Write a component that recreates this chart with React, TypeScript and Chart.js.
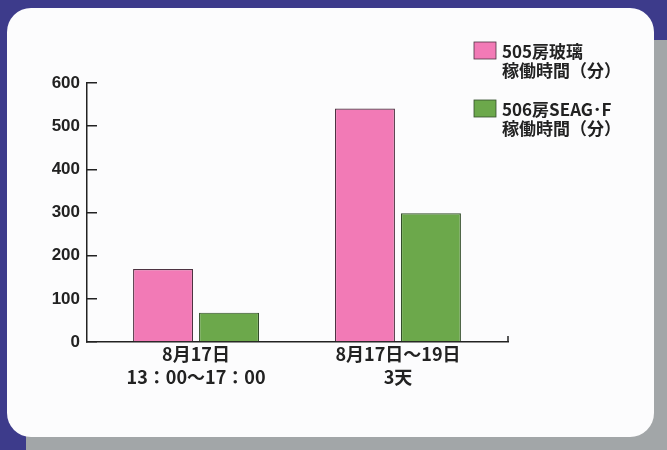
import React, { useEffect, useRef } from "react";
import { Chart, registerables } from "chart.js";

Chart.register(...registerables);

// ---- data ----
const categories: string[][] = [
  ["8月17日", "13：00～17：00"],
  ["8月17日～19日", "3天"],
];
const seriesNames: string[][] = [
  ["505房玻璃", "稼働時間（分）"],
  ["506房SEAG･F", "稼働時間（分）"],
];
const glassMinutes: number[] = [169, 541];
const seagMinutes: number[] = [68, 298];
const yMin = 0;
const yMax = 600;
const yStep = 100;

// ---- styles ----
const NAVY = "#3d3b8b";
const SHADOW = "#a2a6a8";
const CARD = "#fcfcfd";
const PINK = "#f27ab6";
const PINK_BORDER = "#4e3342";
const GREEN = "#6ca84b";
const GREEN_BORDER = "#334d2a";
const INK = "#222222";
const CJK_FONT = '"Noto Sans CJK JP", "Noto Sans", sans-serif';

const backgroundPlugin = {
  id: "cardBackground",
  beforeDraw(chart: any) {
    const { ctx, width, height } = chart;
    ctx.save();
    ctx.fillStyle = NAVY;
    ctx.fillRect(0, 0, width, height);
    ctx.fillStyle = SHADOW;
    ctx.beginPath();
    ctx.roundRect(26, 40, 700, 460, 30);
    ctx.fill();
    ctx.fillStyle = CARD;
    ctx.beginPath();
    ctx.roundRect(7, 8, 647, 429, 24);
    ctx.fill();
    ctx.restore();
  },
};

const sideLegendPlugin = {
  id: "sideLegend",
  afterDraw(chart: any) {
    const { ctx } = chart;
    const tops = [42, 100];
    ctx.save();
    chart.data.datasets.forEach((ds: any, i: number) => {
      const top = tops[i];
      ctx.fillStyle = ds.backgroundColor;
      ctx.fillRect(474, top, 22, 17);
      ctx.strokeStyle = ds.borderColor;
      ctx.lineWidth = 0.8;
      ctx.strokeRect(474, top, 22, 17);
      ctx.fillStyle = INK;
      ctx.font = `bold 17px ${CJK_FONT}`;
      ctx.textAlign = "left";
      ctx.textBaseline = "middle";
      (ds.label as string[]).forEach((line: string, j: number) => {
        ctx.fillText(line, 502, top + 10 + j * 18.5);
      });
    });
    // small closing tick at the right end of the x axis
    const area = chart.chartArea;
    ctx.strokeStyle = INK;
    ctx.lineWidth = 1.5;
    ctx.beginPath();
    ctx.moveTo(area.right, area.bottom);
    ctx.lineTo(area.right, area.bottom - 6);
    ctx.stroke();
    ctx.restore();
  },
};

export default function App() {
  const canvasRef = useRef<HTMLCanvasElement | null>(null);

  useEffect(() => {
    if (!canvasRef.current) return;
    const chart = new Chart(canvasRef.current, {
      type: "bar",
      data: {
        datasets: [
          {
            label: seriesNames[0] as any,
            data: glassMinutes.map((v, i) => ({ x: i, y: v })),
            backgroundColor: PINK,
            borderColor: PINK_BORDER,
            borderWidth: 1.2,
          },
          {
            label: seriesNames[1] as any,
            data: seagMinutes.map((v, i) => ({ x: i, y: v })),
            backgroundColor: GREEN,
            borderColor: GREEN_BORDER,
            borderWidth: 1.2,
          },
        ],
      },
      options: {
        responsive: false,
        animation: false,
        devicePixelRatio: 1,
        categoryPercentage: 0.6535,
        barPercentage: 0.909,
        layout: { padding: { top: 83, right: 159, bottom: 0, left: 0 } },
        plugins: {
          legend: { display: false },
          tooltip: { enabled: false },
          title: { display: false },
        },
        scales: {
          x: {
            type: "linear",
            offset: false,
            min: -0.54,
            max: 1.545,
            afterBuildTicks: (s: any) => {
              s.ticks = categories.map((_, i) => ({ value: i }));
            },
            afterFit: (s: any) => {
              s.height = 108;
            },
            ticks: {
              autoSkip: false,
              maxRotation: 0,
              padding: 0,
              color: INK,
              font: { family: CJK_FONT, size: 18, weight: "bold", lineHeight: 1.3 },
              callback: (v: any) => categories[Number(v)] ?? "",
            },
            grid: { display: true, offset: false, drawOnChartArea: false, drawTicks: false },
            border: { display: true, color: INK, width: 1.5 },
          },
          y: {
            min: yMin,
            max: yMax,
            afterFit: (s: any) => {
              s.width = 87;
            },
            ticks: {
              stepSize: yStep,
              padding: 17,
              color: INK,
              font: { family: '"Liberation Sans", Arial, sans-serif', size: 17, weight: "bold" },
            },
            grid: {
              display: true,
              drawOnChartArea: false,
              drawTicks: true,
              tickLength: -10,
              color: INK,
              lineWidth: 1.5,
            },
            border: { display: true, color: INK, width: 1.5 },
          },
        },
      } as any,
      plugins: [backgroundPlugin, sideLegendPlugin],
    });
    return () => chart.destroy();
  }, []);

  return (
    <div style={{ position: "fixed", left: 0, top: 0, width: 667, height: 450 }}>
      <canvas ref={canvasRef} width={667} height={450} style={{ display: "block" }} />
    </div>
  );
}
